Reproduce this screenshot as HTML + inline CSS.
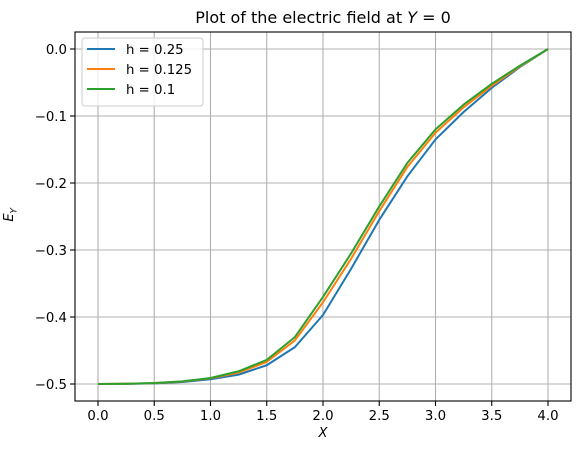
<!DOCTYPE html>
<html><head><meta charset="utf-8"><style>
body{margin:0;background:#fff}
svg{display:block;font-family:"DejaVu Sans","Liberation Sans",sans-serif}
</style></head><body>
<svg id="chart" width="581" height="455"></svg>
<script>
const xs = [0,0.25,0.5,0.75,1.0,1.25,1.5,1.75,2.0,2.25,2.5,2.75,3.0,3.25,3.5,3.75,4.0];
const seriesA = [-0.5,-0.4998,-0.499,-0.497,-0.493,-0.486,-0.472,-0.445,-0.397,-0.328,-0.255,-0.19,-0.135,-0.094,-0.058,-0.027,0];
const seriesB = [-0.5,-0.4997,-0.4987,-0.4963,-0.4915,-0.483,-0.467,-0.435,-0.378,-0.313,-0.242,-0.176,-0.125,-0.087,-0.055,-0.026,0];
const seriesC = [-0.5,-0.4997,-0.4985,-0.496,-0.491,-0.481,-0.464,-0.43,-0.37,-0.305,-0.235,-0.17,-0.12,-0.083,-0.052,-0.025,0];
const labels = ["h = 0.25","h = 0.125","h = 0.1"];
const colors = ["#1f77b4","#ff7f0e","#2ca02c"];
const xTicks = [0,0.5,1,1.5,2,2.5,3,3.5,4];
const xTickLabels = ["0.0","0.5","1.0","1.5","2.0","2.5","3.0","3.5","4.0"];
const yTicks = [0,-0.1,-0.2,-0.3,-0.4,-0.5];
const yTickLabels = ["0.0","−0.1","−0.2","−0.3","−0.4","−0.5"];

const NS="http://www.w3.org/2000/svg";
const svg=document.getElementById('chart');
const L=75,R=571,T=32,B=401;
const sx=v=>98+v*112.5;
const sy=v=>49-v*670;
function mk(t,a,parent){const e=document.createElementNS(NS,t);for(const k in a)e.setAttribute(k,a[k]);(parent||svg).appendChild(e);return e;}

xTicks.forEach((t,i)=>{
  const g=mk('line',{x1:sx(t),x2:sx(t),y1:T,y2:B,stroke:'#b0b0b0','stroke-width':1.1});
  
  
  mk('line',{x1:sx(t),x2:sx(t),y1:B,y2:B+5,stroke:'#000','stroke-width':1.1});
  const tx=mk('text',{x:sx(t),y:B+19,'font-size':13.3,'text-anchor':'middle'});
  tx.textContent=xTickLabels[i];
  
  
});
yTicks.forEach((t,i)=>{
  const g=mk('line',{x1:L,x2:R,y1:sy(t),y2:sy(t),stroke:'#b0b0b0','stroke-width':1.1});
  
  
  mk('line',{x1:L-5,x2:L,y1:sy(t),y2:sy(t),stroke:'#000','stroke-width':1.1});
  const tx=mk('text',{x:L-8,y:sy(t)+5,'font-size':13.3,'text-anchor':'end'});
  tx.textContent=yTickLabels[i];
  
  
});
[seriesA,seriesB,seriesC].forEach((s,k)=>{
  const p=mk('polyline',{points:xs.map((x,i)=>sx(x)+','+sy(s[i])).join(' '),fill:'none',stroke:colors[k],'stroke-width':2,'stroke-linejoin':'round'});
  
  
});
const frame=mk('rect',{x:L,y:T,width:R-L,height:B-T,fill:'none',stroke:'#000','stroke-width':1.1});



const lg=mk('rect',{x:82,y:38,width:121,height:68,rx:3,fill:'#fff','fill-opacity':0.8,stroke:'#ccc','stroke-width':1});


labels.forEach((l,k)=>{
  const y=49+k*20;
  mk('line',{x1:87,x2:115,y1:y,y2:y,stroke:colors[k],'stroke-width':2});
  const t=mk('text',{x:126,y:y+5,'font-size':13.3});
  t.textContent=l;
  
  
});
</script>
<div style="position:absolute;left:0;top:0;width:581px;height:455px;pointer-events:none;font-family:'DejaVu Sans','Liberation Sans',sans-serif">
  <div style="position:absolute;left:75px;width:496px;top:8px;text-align:center;font-size:16px">Plot of the electric field at <i>Y</i> = 0</div>
  <div style="position:absolute;left:75px;width:496px;top:426px;text-align:center;font-size:13px;font-style:italic">X</div>
  <div style="position:absolute;left:4px;top:206px;font-size:13px;transform:rotate(-90deg);font-style:italic">E<sub style="font-size:9px">Y</sub></div>
</div>
</body></html>
